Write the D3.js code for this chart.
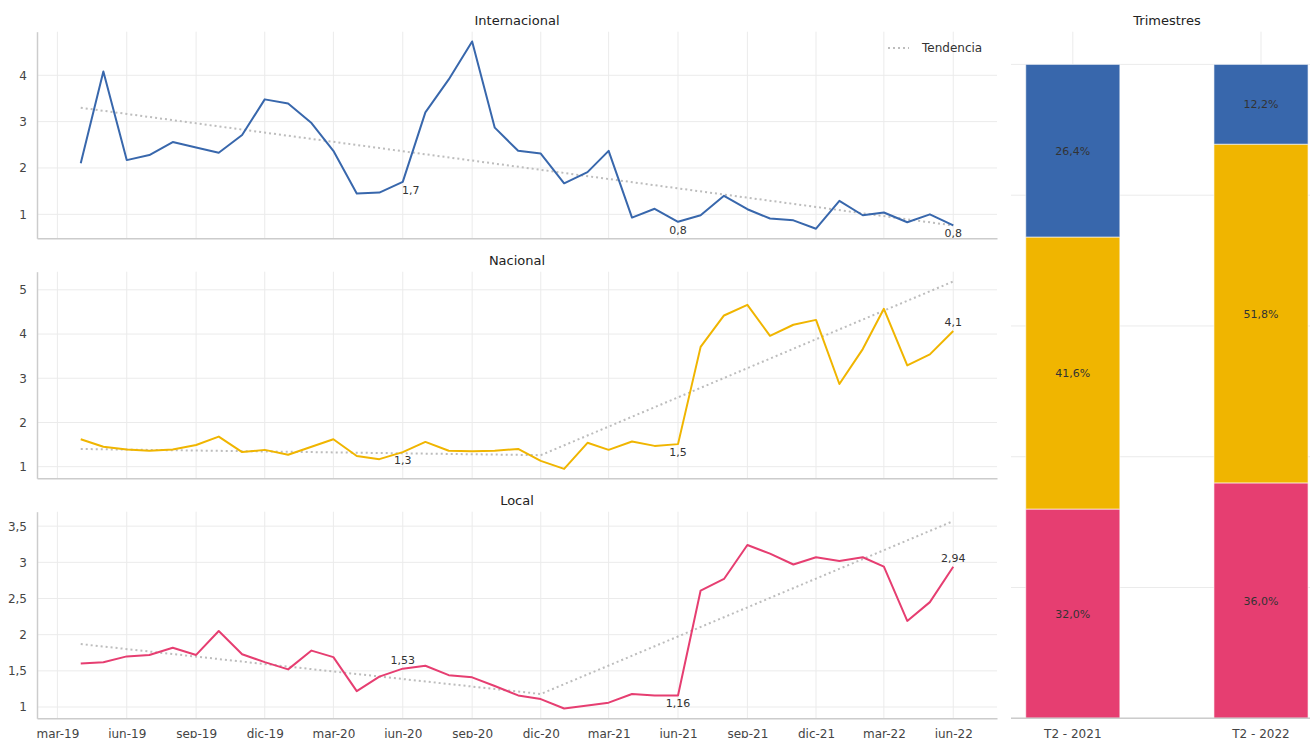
<!DOCTYPE html>
<html>
<head>
<meta charset="utf-8">
<script src="https://cdn.jsdelivr.net/npm/d3@7"></script>
<style>
  body { margin: 0; background: #fff; }
  svg { font-family: "DejaVu Sans", sans-serif; }
</style>
</head>
<body>
<div id="chart"></div>
<script>
// monthly series, apr-19 .. jun-22
var internacional = [2.10, 4.08, 2.17, 2.28, 2.56, 2.44, 2.33, 2.71, 3.48, 3.39, 2.97, 2.37, 1.45,
  1.47, 1.70, 3.20, 3.91, 4.73, 2.87, 2.37, 2.31, 1.67, 1.91, 2.37, 0.93, 1.12, 0.84, 0.98,
  1.40, 1.11, 0.91, 0.87, 0.69, 1.29, 0.98, 1.04, 0.83, 1.00, 0.76];
var nacional = [1.62, 1.45, 1.39, 1.36, 1.39, 1.49, 1.68, 1.33, 1.38, 1.27, 1.45, 1.62, 1.24,
  1.17, 1.33, 1.56, 1.36, 1.35, 1.36, 1.40, 1.13, 0.95, 1.54, 1.38, 1.57, 1.47, 1.51, 3.71,
  4.42, 4.66, 3.96, 4.21, 4.32, 2.87, 3.66, 4.57, 3.29, 3.54, 4.07];
var local = [1.60, 1.62, 1.70, 1.72, 1.82, 1.72, 2.05, 1.73, 1.62, 1.52, 1.78, 1.69, 1.22,
  1.42, 1.53, 1.57, 1.44, 1.41, 1.29, 1.16, 1.11, 0.98, 1.02, 1.06, 1.18, 1.16, 1.16, 2.61,
  2.77, 3.24, 3.12, 2.97, 3.07, 3.02, 3.07, 2.94, 2.19, 2.45, 2.94];

// trend lines: values at apr-19, dic-20, jun-22
var trendMonths = ["2019-04", "2020-12", "2022-06"];
var trendInternacional = [3.30, 1.96, 0.76];
var trendNacional = [1.40, 1.26, 5.19];
var trendLocal = [1.87, 1.18, 3.57];

// point labels
var labelsInternacional = [["2020-06", "1,7", "right"], ["2021-06", "0,8", "below"], ["2022-06", "0,8", "below"]];
var labelsNacional = [["2020-06", "1,3", "below"], ["2021-06", "1,5", "below"], ["2022-06", "4,1", "above"]];
var labelsLocal = [["2020-06", "1,53", "above"], ["2021-06", "1,16", "below"], ["2022-06", "2,94", "above"]];

// quarter shares (%)
var quarters = ["T2 - 2021", "T2 - 2022"];
var shareLocal = [32.0, 36.0];
var shareNacional = [41.6, 51.8];
var shareInternacional = [26.4, 12.2];

var blue = "#3867ac", yellow = "#f0b500", pink = "#e63e71";
var gridColor = "#ebebeb", axisColor = "#cccccc", trendColor = "#bdbdbd";

var es = d3.formatLocale({decimal: ",", thousands: ".", grouping: [3], currency: ["", "€"]});
var tfmt = d3.timeFormatLocale({
  dateTime: "%x %X", date: "%d/%m/%Y", time: "%H:%M:%S", periods: ["AM", "PM"],
  days: ["domingo", "lunes", "martes", "miércoles", "jueves", "viernes", "sábado"],
  shortDays: ["dom", "lun", "mar", "mié", "jue", "vie", "sáb"],
  months: ["enero", "febrero", "marzo", "abril", "mayo", "junio", "julio", "agosto", "septiembre", "octubre", "noviembre", "diciembre"],
  shortMonths: ["ene", "feb", "mar", "abr", "may", "jun", "jul", "ago", "sep", "oct", "nov", "dic"]
});
var monthFmt = tfmt.format("%b-%y");
var parseMonth = d3.timeParse("%Y-%m");

var months = d3.timeMonth.range(new Date(2019, 3, 1), new Date(2022, 6, 1));
var tickDates = d3.timeMonth.range(new Date(2019, 2, 1), new Date(2022, 6, 1), 3);

var W = 1310, H = 738;
var svg = d3.select("#chart").append("svg").attr("width", W).attr("height", H);

var x = d3.scaleTime()
  .domain([new Date(2019, 1, 2), new Date(2022, 6, 29)])
  .range([37, 997]);

var panels = [
  {title: "Internacional", values: internacional, trend: trendInternacional, labels: labelsInternacional,
    color: blue, domain: [0.483, 4.94], ticks: [1, 2, 3, 4], top: 31.7, bottom: 238.3, legend: true},
  {title: "Nacional", values: nacional, trend: trendNacional, labels: labelsNacional,
    color: yellow, domain: [0.737, 5.41], ticks: [1, 2, 3, 4, 5], top: 271.7, bottom: 478.3},
  {title: "Local", values: local, trend: trendLocal, labels: labelsLocal,
    color: pink, domain: [0.844, 3.70], ticks: [1, 1.5, 2, 2.5, 3, 3.5], top: 511.7, bottom: 718.3, xaxis: true}
];

panels.forEach(function(p) {
  var y = d3.scaleLinear().domain(p.domain).range([p.bottom, p.top]);
  var g = svg.append("g");

  // grid
  g.append("g").selectAll("line").data(tickDates).enter().append("line")
    .attr("x1", function(d) { return x(d); }).attr("x2", function(d) { return x(d); })
    .attr("y1", p.top).attr("y2", p.bottom)
    .attr("stroke", gridColor).attr("stroke-width", 1);
  g.append("g").selectAll("line").data(p.ticks).enter().append("line")
    .attr("x1", x.range()[0]).attr("x2", x.range()[1])
    .attr("y1", function(d) { return y(d); }).attr("y2", function(d) { return y(d); })
    .attr("stroke", gridColor).attr("stroke-width", 1);

  // y axis
  var yAxis = g.append("g").attr("transform", "translate(" + x.range()[0] + ",0)")
    .call(d3.axisLeft(y).tickValues(p.ticks).tickSize(0).tickPadding(10).tickFormat(es.format("~g")));
  yAxis.select(".domain").attr("stroke", axisColor).attr("stroke-width", 1.5);
  yAxis.selectAll("text").attr("font-size", 12).attr("fill", "#444").attr("font-family", "DejaVu Sans");

  // x axis
  var xAxis = g.append("g").attr("transform", "translate(0," + p.bottom + ")")
    .call(d3.axisBottom(x).tickValues(tickDates).tickSize(0).tickPadding(11).tickFormat(monthFmt));
  xAxis.select(".domain").attr("stroke", axisColor).attr("stroke-width", 1.5);
  xAxis.selectAll("text").attr("font-size", 12).attr("fill", "#444").attr("font-family", "DejaVu Sans")
    .style("display", p.xaxis ? null : "none");

  // trend
  var trendPts = trendMonths.map(function(m, i) { return [parseMonth(m), p.trend[i]]; });
  g.append("path").datum(trendPts)
    .attr("fill", "none").attr("stroke", trendColor).attr("stroke-width", 2)
    .attr("stroke-dasharray", "2,3")
    .attr("d", d3.line().x(function(d) { return x(d[0]); }).y(function(d) { return y(d[1]); }));

  // series line
  g.append("path").datum(p.values)
    .attr("fill", "none").attr("stroke", p.color).attr("stroke-width", 2)
    .attr("stroke-linejoin", "round")
    .attr("d", d3.line().x(function(d, i) { return x(months[i]); }).y(function(d) { return y(d); }));

  // labels
  g.append("g").selectAll("text").data(p.labels).enter().append("text")
    .attr("x", function(d) { return x(parseMonth(d[0])) + (d[2] == "right" ? 8 : 0); })
    .attr("y", function(d) {
      var v = p.values[d3.timeMonth.count(months[0], parseMonth(d[0]))];
      return y(v) + (d[2] == "above" ? -5 : 12);
    })
    .attr("text-anchor", "middle")
    .attr("font-size", 11).attr("fill", "#333")
    .text(function(d) { return d[1]; });

  // title
  g.append("text").attr("x", (x.range()[0] + x.range()[1]) / 2).attr("y", p.top - 7)
    .attr("text-anchor", "middle").attr("font-size", 13).attr("fill", "#222")
    .text(p.title);

  if (p.legend) {
    g.append("line").attr("x1", 888).attr("x2", 909).attr("y1", 48).attr("y2", 48)
      .attr("stroke", trendColor).attr("stroke-width", 2).attr("stroke-dasharray", "2,3");
    g.append("text").attr("x", 922).attr("y", 52).attr("font-size", 12).attr("fill", "#333")
      .text("Tendencia");
  }
});

// stacked bars
var bx = d3.scaleBand().domain(quarters).range([978.7, 1355.1]).paddingInner(0.5).paddingOuter(0.25);
var by = d3.scaleLinear().domain([0, 105]).range([718.3, 31.7]);
var bg = svg.append("g");

bg.append("g").selectAll("line").data([0, 20, 40, 60, 80, 100]).enter().append("line")
  .attr("x1", 1011).attr("x2", 1323)
  .attr("y1", function(d) { return by(d); }).attr("y2", function(d) { return by(d); })
  .attr("stroke", gridColor);
bg.append("g").selectAll("line").data(quarters).enter().append("line")
  .attr("x1", function(d) { return bx(d) + bx.bandwidth() / 2; })
  .attr("x2", function(d) { return bx(d) + bx.bandwidth() / 2; })
  .attr("y1", 31.7).attr("y2", 718.3).attr("stroke", gridColor);

var stackRows = quarters.map(function(q, i) {
  return {q: q, Local: shareLocal[i], Nacional: shareNacional[i], Internacional: shareInternacional[i]};
});
var keys = ["Local", "Nacional", "Internacional"];
var colors = {Local: pink, Nacional: yellow, Internacional: blue};
var stacked = d3.stack().keys(keys)(stackRows);

stacked.forEach(function(layer) {
  var lg = bg.append("g");
  lg.selectAll("rect").data(layer).enter().append("rect")
    .attr("x", function(d) { return bx(d.data.q); })
    .attr("width", bx.bandwidth())
    .attr("y", function(d) { return by(d[1]); })
    .attr("height", function(d) { return by(d[0]) - by(d[1]); })
    .attr("fill", colors[layer.key])
    .attr("stroke", "#fff").attr("stroke-opacity", 0.6).attr("stroke-width", 1);
  lg.selectAll("text").data(layer).enter().append("text")
    .attr("x", function(d) { return bx(d.data.q) + bx.bandwidth() / 2; })
    .attr("y", function(d) { return (by(d[0]) + by(d[1])) / 2 + 4; })
    .attr("text-anchor", "middle").attr("font-size", 11).attr("fill", "#333")
    .text(function(d) { return es.format(".1f")(d[1] - d[0]) + "%"; });
});

var bxAxis = bg.append("g").attr("transform", "translate(0,718.3)")
  .call(d3.axisBottom(bx).tickSize(0).tickPadding(11));
bxAxis.select(".domain").attr("d", "M1011,0H1323").attr("stroke", axisColor).attr("stroke-width", 1.5);
bxAxis.selectAll("text").attr("font-size", 12).attr("fill", "#444").attr("font-family", "DejaVu Sans");

bg.append("text").attr("x", 1167).attr("y", 24.7).attr("text-anchor", "middle")
  .attr("font-size", 13).attr("fill", "#222").text("Trimestres");
</script>
</body>
</html>
